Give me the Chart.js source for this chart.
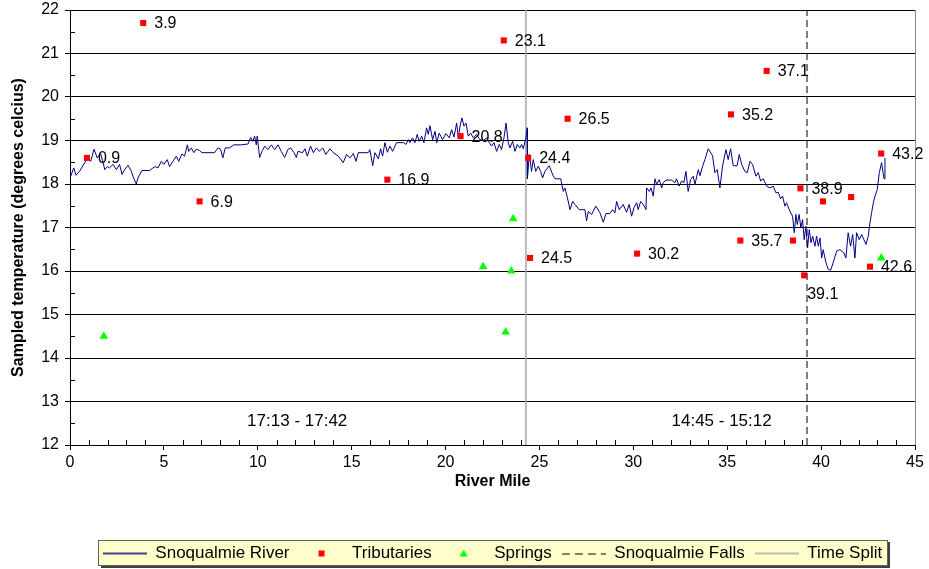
<!DOCTYPE html>
<html>
<head>
<meta charset="utf-8">
<script src="https://cdn.jsdelivr.net/npm/chart.js@4.4.1/dist/chart.umd.min.js"></script>
<style>
  html, body { margin: 0; padding: 0; background: #fff; }
  #wrap { width: 929px; height: 569px; position: relative; }
</style>
</head>
<body>
<div id="wrap"><canvas id="tempChart"></canvas></div>
<script>
// river temperature trace (river mile, deg C)
const riverMiles = [
  0.04, 0.2, 0.32, 0.52, 0.78, 0.96, 1.1, 1.28, 1.45, 1.63, 1.76, 1.85, 1.99, 2.1, 2.29, 2.47, 2.64, 2.77, 2.91, 3.09,
  3.27, 3.35, 3.53, 3.62, 3.83, 4.24, 4.42, 4.54, 4.69, 4.86, 5.0, 5.18, 5.3, 5.48, 5.66, 5.79, 5.96, 6.1, 6.25, 6.32,
  6.46, 6.6, 6.73, 6.9, 7.03, 7.7, 7.88, 8.02, 8.14, 8.27, 8.5, 8.72, 9.12, 9.48, 9.62, 9.74, 9.83, 9.92, 9.97, 10.1,
  10.22, 10.37, 10.54, 10.72, 10.9, 11.08, 11.25, 11.43, 11.6, 11.75, 11.93, 12.05, 12.14, 12.39, 12.51, 12.64, 12.81, 12.96, 13.13, 13.28,
  13.46, 13.63, 13.84, 14.02, 14.29, 14.55, 14.73, 14.91, 15.09, 15.23, 15.35, 15.88, 15.97, 16.12, 16.24, 16.42, 16.54, 16.65, 16.77, 16.9,
  17.04, 17.18, 17.39, 17.78, 17.89, 18.02, 18.1, 18.24, 18.37, 18.49, 18.6, 18.73, 18.85, 18.99, 19.08, 19.17, 19.31, 19.44, 19.53, 19.66,
  19.84, 20.02, 20.2, 20.32, 20.45, 20.59, 20.68, 20.77, 20.87, 20.98, 21.09, 21.21, 21.34, 21.48, 21.65, 21.83, 22.01, 22.19, 22.33, 22.45,
  22.58, 22.72, 22.86, 22.98, 23.11, 23.22, 23.34, 23.43, 23.57, 23.7, 23.82, 23.96, 24.05, 24.14, 24.28, 24.35, 24.36, 24.46, 24.58, 24.67,
  24.8, 24.94, 25.06, 25.17, 25.29, 25.52, 25.74, 25.83, 26.13, 26.27, 26.36, 26.49, 26.63, 26.77, 26.89, 27.12, 27.42, 27.51, 27.6, 27.78,
  28.0, 28.22, 28.4, 28.54, 28.75, 28.9, 29.02, 29.11, 29.25, 29.46, 29.64, 29.78, 29.91, 30.03, 30.18, 30.26, 30.39, 30.53, 30.67, 30.71,
  30.85, 30.94, 31.06, 31.15, 31.24, 31.38, 31.51, 31.59, 31.74, 32.04, 32.21, 32.3, 32.44, 32.57, 32.69, 32.8, 32.92, 33.05, 33.19, 33.28,
  33.46, 33.55, 33.69, 33.81, 33.99, 34.22, 34.34, 34.47, 34.61, 34.75, 34.93, 35.05, 35.18, 35.32, 35.53, 35.64, 35.77, 35.94, 36.07, 36.21,
  36.35, 36.53, 36.65, 36.78, 36.92, 37.1, 37.27, 37.45, 37.59, 37.72, 37.84, 37.95, 38.07, 38.16, 38.34, 38.48, 38.57, 38.66, 38.73, 38.83,
  38.92, 39.01, 39.1, 39.19, 39.28, 39.37, 39.46, 39.55, 39.67, 39.76, 39.85, 39.94, 40.03, 40.11, 40.26, 40.38, 40.51, 40.64, 40.83, 41.0,
  41.21, 41.32, 41.44, 41.57, 41.68, 41.8, 41.89, 42.03, 42.16, 42.39, 42.51, 42.6, 42.69, 42.78, 42.87, 42.99, 43.1, 43.22, 43.35, 43.4
];
const riverTemps = [
  18.18, 18.37, 18.2, 18.3, 18.49, 18.6, 18.52, 18.8, 18.6, 18.7, 18.5, 18.33, 18.4, 18.37, 18.45, 18.33, 18.45, 18.22, 18.33, 18.43,
  18.29, 18.18, 18.0, 18.14, 18.31, 18.31, 18.37, 18.4, 18.37, 18.52, 18.45, 18.56, 18.4, 18.52, 18.64, 18.52, 18.69, 18.64, 18.9, 18.75,
  18.83, 18.72, 18.8, 18.77, 18.72, 18.72, 18.83, 18.8, 18.6, 18.83, 18.83, 18.9, 18.9, 18.92, 19.07, 18.98, 19.1, 18.9, 19.1, 18.61,
  18.75, 18.87, 18.79, 18.9, 18.79, 18.9, 18.75, 18.61, 18.79, 18.83, 18.72, 18.61, 18.75, 18.72, 18.81, 18.64, 18.87, 18.72, 18.83, 18.75,
  18.83, 18.68, 18.81, 18.72, 18.64, 18.49, 18.68, 18.6, 18.7, 18.52, 18.72, 18.72, 18.79, 18.42, 18.72, 18.58, 18.81, 18.64, 18.95, 18.73,
  18.87, 18.75, 18.95, 18.95, 18.91, 19.02, 18.95, 19.06, 18.95, 19.14, 18.98, 19.1, 18.95, 19.29, 19.14, 19.34, 19.02, 19.21, 18.95, 19.17,
  19.02, 19.16, 19.06, 19.25, 19.08, 19.4, 19.06, 19.33, 19.52, 19.33, 19.4, 19.1, 19.17, 19.06, 19.14, 19.02, 19.0, 19.06, 18.95, 18.87,
  18.95, 18.75, 18.91, 18.79, 19.06, 19.4, 18.95, 18.83, 18.98, 18.75, 18.91, 18.83, 18.91, 18.81, 19.06, 19.29, 18.12, 18.68, 18.29, 18.56,
  18.29, 18.41, 18.29, 18.14, 18.29, 18.42, 18.18, 18.12, 18.12, 17.83, 17.91, 17.68, 17.41, 17.6, 17.53, 17.41, 17.41, 17.15, 17.37, 17.3,
  17.49, 17.34, 17.12, 17.32, 17.32, 17.41, 17.34, 17.6, 17.41, 17.53, 17.35, 17.53, 17.26, 17.45, 17.57, 17.41, 17.6, 17.53, 17.41, 17.91,
  17.83, 17.91, 17.72, 18.12, 17.99, 18.1, 17.91, 18.03, 18.09, 18.09, 18.03, 18.12, 17.95, 18.07, 18.03, 18.29, 17.83, 18.1, 18.18, 17.99,
  18.33, 18.19, 18.41, 18.56, 18.81, 18.65, 18.26, 18.33, 17.91, 18.41, 18.79, 18.56, 18.81, 18.42, 18.42, 18.68, 18.45, 18.29, 18.26, 18.52,
  18.45, 18.18, 18.26, 18.07, 18.12, 17.95, 17.91, 17.95, 17.8, 17.81, 17.66, 17.72, 17.49, 17.57, 17.37, 17.26, 16.88, 17.3, 17.07, 17.3,
  16.99, 17.18, 16.72, 17.03, 16.53, 16.95, 16.65, 16.8, 16.57, 16.8, 16.57, 16.76, 16.3, 16.49, 16.19, 16.04, 16.02, 16.19, 16.46, 16.49,
  16.42, 16.3, 16.88, 16.57, 16.84, 16.3, 16.88, 16.72, 16.84, 16.61, 16.8, 17.1, 17.34, 17.57, 17.72, 17.87, 18.26, 18.49, 18.12, 18.6
];

// tributaries
const tribMiles  = [0.9, 3.9, 6.9, 16.9, 20.8, 23.1, 24.4, 24.5, 26.5, 30.2, 35.2, 37.1, 35.7, 38.5, 38.9, 40.1, 41.6, 39.1, 42.6, 43.2];
const tribTemps  = [18.6, 21.7, 17.6, 18.1, 19.1, 21.3, 18.6, 16.3, 19.5, 16.4, 19.6, 20.6, 16.7, 16.7, 17.9, 17.6, 17.7, 15.9, 16.1, 18.7];
const tribLabels = ['0.9', '3.9', '6.9', '16.9', '20.8', '23.1', '24.4', '24.5', '26.5', '30.2', '35.2', '37.1', '35.7', '', '38.9', '', '', '39.1', '42.6', '43.2'];

// springs
const springMiles = [1.8, 22.0, 23.5, 23.6, 23.2, 43.2];
const springTemps = [14.5, 16.1, 16.0, 17.2, 14.6, 16.3];

// reference lines
const fallsMile = 39.25;
const splitMile = 24.28;

// time window captions
const timeCaptions = ['17:13 - 17:42', '14:45 - 15:12'];
const timeCaptionMiles = [12.1, 34.7];
const timeCaptionTemp = 12.55;

const seriesNames = ['Snoqualmie River', 'Tributaries', 'Springs', 'Snoqualmie Falls', 'Time Split'];
const yMin = 12, yMax = 22, xMin = 0, xMax = 45;

function toPoints(xs, ys) {
  return xs.map((x, i) => ({ x: x, y: ys[i] }));
}

function marker(draw) {
  const c = document.createElement('canvas');
  c.width = 44;
  c.height = 12;
  const g = c.getContext('2d');
  draw(g);
  return c;
}

const legendMarkers = [
  marker(g => { g.strokeStyle = '#000080'; g.lineWidth = 1.5; g.beginPath(); g.moveTo(0, 6); g.lineTo(44, 6); g.stroke(); }),
  marker(g => { g.fillStyle = '#FF0000'; g.fillRect(19, 3, 6, 6); }),
  marker(g => { g.fillStyle = '#00FF00'; g.beginPath(); g.moveTo(22, 2); g.lineTo(26, 9); g.lineTo(18, 9); g.closePath(); g.fill(); }),
  marker(g => { g.strokeStyle = '#000'; g.lineWidth = 1; g.setLineDash([8, 5]); g.beginPath(); g.moveTo(0, 6.5); g.lineTo(44, 6.5); g.stroke(); }),
  marker(g => { g.strokeStyle = '#A6A6A6'; g.lineWidth = 1.5; g.beginPath(); g.moveTo(0, 6); g.lineTo(44, 6); g.stroke(); })
];

Chart.defaults.font.family = '"Liberation Sans", Arial, sans-serif';
Chart.defaults.font.size = 16;
Chart.defaults.color = '#000';

const extras = {
  id: 'extras',
  afterLayout(chart) {
    // centre the legend under the plot area and pin it to the bottom strip
    const lg = chart.legend;
    const ca = chart.chartArea;
    lg.left = ca.left;
    lg.right = ca.right;
    lg.top = 535;
    lg.bottom = 569;
  },
  beforeDraw(chart) {
    const lg = chart.legend;
    const pad = lg.options.labels.padding;
    const w = lg.lineWidths[0] - pad + 10;
    const cx = (lg.left + lg.right) / 2;
    const ctx = chart.ctx;
    ctx.save();
    ctx.fillStyle = '#FFFFCC';
    ctx.fillRect(cx - w / 2, 541, w, 25);
    ctx.strokeStyle = '#606060';
    ctx.lineWidth = 1;
    ctx.strokeRect(Math.round(cx - w / 2) + 0.5, 540.5, Math.round(w), 25);
    ctx.fillStyle = '#404040';
    ctx.fillRect(Math.round(cx + w / 2) + 1, 542, 2, 26);
    ctx.fillRect(Math.round(cx - w / 2) + 3, 566, Math.round(w), 2);
    ctx.restore();
  },
  afterDatasetsDraw(chart) {
    const ctx = chart.ctx;
    const xs = chart.scales.x, ys = chart.scales.y;
    ctx.save();
    ctx.font = '16px "Liberation Sans", Arial, sans-serif';
    ctx.fillStyle = '#000';
    ctx.textBaseline = 'middle';
    ctx.textAlign = 'left';
    tribLabels.forEach((t, i) => {
      if (!t) return;
      const px = xs.getPixelForValue(tribMiles[i]);
      const py = ys.getPixelForValue(tribTemps[i]);
      if (t === '39.1') {
        ctx.fillText(t, px + 3, py + 19);
      } else {
        ctx.fillText(t, px + 11, py + 1);
      }
    });
    ctx.font = '17px "Liberation Sans", Arial, sans-serif';
    ctx.textAlign = 'center';
    timeCaptions.forEach((t, i) => {
      ctx.fillText(t, xs.getPixelForValue(timeCaptionMiles[i]), ys.getPixelForValue(timeCaptionTemp));
    });
    ctx.restore();
  },
  afterDraw(chart) {
    // minor tick marks pointing into the plot
    const ctx = chart.ctx;
    const xs = chart.scales.x, ys = chart.scales.y;
    const ca = chart.chartArea;
    ctx.save();
    ctx.strokeStyle = '#000';
    ctx.lineWidth = 1;
    ctx.beginPath();
    for (let v = yMin + 0.5; v < yMax; v += 1) {
      const py = Math.round(ys.getPixelForValue(v)) + 0.5;
      ctx.moveTo(ca.left, py);
      ctx.lineTo(ca.left + 5, py);
    }
    for (let m = xMin + 1; m < xMax; m++) {
      if (m % 5 === 0) continue;
      const px = Math.round(xs.getPixelForValue(m)) + 0.5;
      ctx.moveTo(px, ca.bottom);
      ctx.lineTo(px, ca.bottom - 5);
    }
    ctx.stroke();
    ctx.restore();
  }
};

new Chart('tempChart', {
  type: 'scatter',
  data: {
    datasets: [{
      label: seriesNames[0],
      data: toPoints(riverMiles, riverTemps),
      showLine: true,
      borderColor: '#000080',
      borderWidth: 1,
      pointRadius: 0,
      order: 2
    }, {
      label: seriesNames[1],
      data: toPoints(tribMiles, tribTemps),
      pointStyle: 'rect',
      pointRadius: 4.3,
      backgroundColor: '#FF0000',
      borderWidth: 0,
      order: 0
    }, {
      label: seriesNames[2],
      data: toPoints(springMiles, springTemps),
      pointStyle: 'triangle',
      pointRadius: 5,
      backgroundColor: '#00FF00',
      borderWidth: 0,
      order: 1
    }, {
      label: seriesNames[3],
      data: toPoints([fallsMile, fallsMile], [yMin, yMax]),
      showLine: true,
      borderColor: '#000',
      borderWidth: 1,
      borderDash: [7, 4],
      pointRadius: 0,
      order: 3
    }, {
      label: seriesNames[4],
      data: toPoints([splitMile, splitMile], [yMin, yMax]),
      showLine: true,
      borderColor: '#A6A6A6',
      borderWidth: 1.5,
      pointRadius: 0,
      order: 4
    }]
  },
  options: {
    responsive: true,
    maintainAspectRatio: false,
    animation: false,
    layout: { padding: { left: 0, right: 14, top: 10, bottom: 35 } },
    plugins: {
      tooltip: { enabled: false },
      legend: {
        position: 'bottom',
        labels: {
          usePointStyle: true,
          pointStyleWidth: 44,
          padding: 10,
          font: { size: 17 },
          color: '#000',
          generateLabels: () => seriesNames.map((name, i) => ({
            text: name,
            pointStyle: legendMarkers[i],
            fillStyle: 'transparent',
            strokeStyle: 'transparent',
            lineWidth: 0,
            hidden: false,
            datasetIndex: i
          }))
        }
      }
    },
    scales: {
      x: {
        type: 'linear',
        min: xMin,
        max: xMax,
        ticks: { stepSize: 5, color: '#000', padding: 3, maxRotation: 0 },
        grid: {
          color: c => (c.tick && c.tick.value === xMax) ? '#8C8C8C' : 'rgba(0,0,0,0)',
          tickColor: '#000',
          tickLength: 5
        },
        border: { color: '#000' },
        title: { display: true, text: 'River Mile', color: '#000', font: { weight: 'bold', size: 16 }, padding: { top: 4, bottom: 6 } },
        afterFit: s => { s.height = 52; s.paddingLeft = 0; s.paddingRight = 0; }
      },
      y: {
        min: yMin,
        max: yMax,
        ticks: { stepSize: 1, color: '#000', padding: 6 },
        grid: { color: '#000', tickColor: '#000', tickLength: 5 },
        border: { color: '#000' },
        title: { display: true, text: 'Sampled temperature (degrees celcius)', color: '#000', font: { weight: 'bold', size: 16 }, padding: { top: 9, bottom: 0 } },
        afterFit: s => { s.width = 70; s.paddingTop = 0; s.paddingBottom = 0; }
      }
    }
  },
  plugins: [extras]
});
</script>
</body>
</html>
